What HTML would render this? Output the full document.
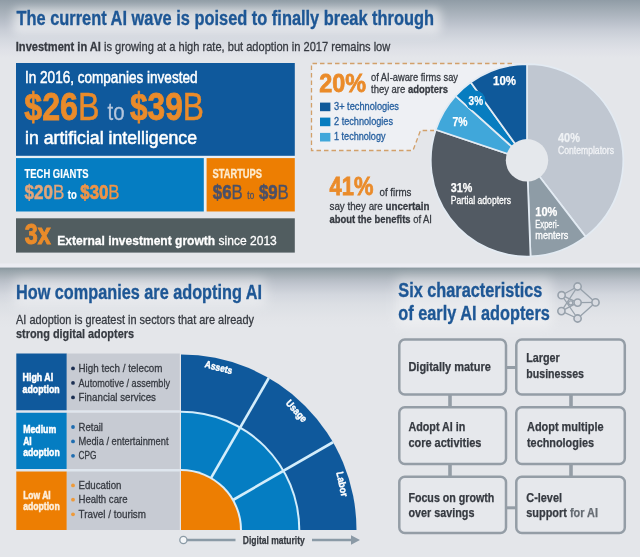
<!DOCTYPE html>
<html lang="en"><head><meta charset="utf-8"><title>The current AI wave is poised to finally break through</title>
<style>html,body{margin:0;padding:0;background:#e4e6ea;}svg{display:block;will-change:transform}text{font-family:"Liberation Sans",Arial,Helvetica,sans-serif;}</style></head><body>
<svg width="640" height="557" viewBox="0 0 640 557">
<defs>
<linearGradient id="g1" x1="0" y1="0" x2="0" y2="1">
<stop offset="0" stop-color="#909ca6"/><stop offset="0.17" stop-color="#a3adb6"/><stop offset="0.34" stop-color="#b5bcc6"/><stop offset="0.52" stop-color="#c8cdd6"/><stop offset="0.69" stop-color="#d5d9e0"/><stop offset="0.86" stop-color="#dfe1e7"/><stop offset="1" stop-color="#e4e6ea"/>
</linearGradient>
<linearGradient id="g2" x1="0" y1="0" x2="0" y2="1">
<stop offset="0" stop-color="#87959d"/><stop offset="0.05" stop-color="#97a3aa"/><stop offset="0.117" stop-color="#a5aeb5"/><stop offset="0.2" stop-color="#b5bcc4"/><stop offset="0.283" stop-color="#c1c6cf"/><stop offset="0.45" stop-color="#d3d7de"/><stop offset="0.617" stop-color="#dcdfe4"/><stop offset="0.833" stop-color="#e2e4e8"/><stop offset="1" stop-color="#e4e6ea"/>
</linearGradient>
<filter id="bl" x="-20%" y="-60%" width="140%" height="220%"><feGaussianBlur stdDeviation="4"/></filter>
<filter id="bl2" x="-20%" y="-80%" width="140%" height="260%"><feGaussianBlur stdDeviation="5.5"/></filter>
</defs>
<rect x="0" y="0" width="640" height="557" fill="#e4e6ea"/>
<rect x="0" y="0" width="640" height="58" fill="url(#g1)"/>
<rect x="0" y="263.5" width="640" height="4.1" fill="#ebecf2"/>
<rect x="0" y="267.6" width="640" height="60" fill="url(#g2)"/>
<rect x="13" y="8" width="428" height="26" rx="6" fill="#ffffff" opacity="0.5" filter="url(#bl)"/>
<rect x="14" y="278" width="252" height="28" rx="6" fill="#ffffff" opacity="0.42" filter="url(#bl2)"/>
<rect x="396" y="277" width="156" height="50" rx="6" fill="#ffffff" opacity="0.36" filter="url(#bl2)"/>
<text x="16.5" y="25.3" font-size="20" font-weight="bold" fill="#1e5795" textLength="417.5" lengthAdjust="spacingAndGlyphs" stroke="#1e5795" stroke-width="0.35">The current AI wave is poised to finally break through</text>
<text x="15.8" y="51.4" font-size="12.7" font-weight="normal" fill="#363a41" stroke="#363a41" stroke-width="0.3" textLength="374.5" lengthAdjust="spacingAndGlyphs"><tspan font-weight="bold">Investment in AI</tspan> is growing at a high rate, but adoption in 2017 remains low</text>
<rect x="16" y="150" width="278.8" height="61.5" fill="#e8eff5"/>
<rect x="16" y="63" width="278.8" height="92.8" fill="#0f599c"/>
<text x="25" y="83.3" font-size="16" font-weight="normal" fill="#ffffff" stroke="#ffffff" stroke-width="0.5" textLength="172.5" lengthAdjust="spacingAndGlyphs">In 2016, companies invested</text>
<text x="24.3" y="119.8" font-size="38" font-weight="normal" fill="#ea8b2a" stroke="#ea8b2a" stroke-width="0.5" textLength="75.2" lengthAdjust="spacingAndGlyphs"><tspan font-weight="bold" stroke-width="0.8">$26</tspan>B</text>
<text x="107.6" y="119.8" font-size="24" font-weight="normal" fill="#b4c6dd" stroke="#b4c6dd" stroke-width="0.3" textLength="17" lengthAdjust="spacingAndGlyphs">to</text>
<text x="130" y="119.8" font-size="38" font-weight="normal" fill="#ea8b2a" stroke="#ea8b2a" stroke-width="0.5" textLength="74" lengthAdjust="spacingAndGlyphs"><tspan font-weight="bold" stroke-width="0.8">$39</tspan>B</text>
<text x="25" y="144" font-size="19" font-weight="normal" fill="#ffffff" stroke="#ffffff" stroke-width="0.55" textLength="172" lengthAdjust="spacingAndGlyphs">in artificial intelligence</text>
<rect x="16" y="158.1" width="187.8" height="53.4" fill="#057dc2"/>
<text x="24.5" y="177.7" font-size="12.3" font-weight="bold" fill="#ffffff" stroke="#ffffff" stroke-width="0.15" textLength="64" lengthAdjust="spacingAndGlyphs">TECH GIANTS</text>
<text x="24.6" y="198.8" font-size="20.3" font-weight="normal" fill="#e3a57a" stroke="#e3a57a" stroke-width="0.3" textLength="39.8" lengthAdjust="spacingAndGlyphs"><tspan font-weight="bold" stroke-width="0.5">$20</tspan>B</text>
<text x="67.8" y="198.8" font-size="12.5" font-weight="bold" fill="#ffffff" stroke="#ffffff" stroke-width="0.2" textLength="9" lengthAdjust="spacingAndGlyphs">to</text>
<text x="80.3" y="198.8" font-size="20.3" font-weight="normal" fill="#f09447" stroke="#f09447" stroke-width="0.3" textLength="39.2" lengthAdjust="spacingAndGlyphs"><tspan font-weight="bold" stroke-width="0.7">$30</tspan>B</text>
<rect x="206.6" y="158.1" width="88.2" height="53.4" fill="#ed7e02"/>
<text x="212.5" y="177.8" font-size="12.3" font-weight="bold" fill="#fdecd0" stroke="#fdecd0" stroke-width="0.3" textLength="49.5" lengthAdjust="spacingAndGlyphs">STARTUPS</text>
<text x="212.8" y="198.8" font-size="20.5" font-weight="normal" fill="#4a5068" stroke="#4a5068" stroke-width="0.3" textLength="76" lengthAdjust="spacingAndGlyphs"><tspan font-weight="bold" stroke-width="0.6">$6</tspan>B <tspan font-size="10">to</tspan> <tspan font-weight="bold" stroke-width="0.6">$9</tspan>B</text>
<rect x="16" y="218.3" width="278.8" height="34.3" fill="#515d60"/>
<text x="24.8" y="243.9" font-size="29.5" font-weight="bold" fill="#ea8b2a" stroke="#ea8b2a" stroke-width="1.0" textLength="26" lengthAdjust="spacingAndGlyphs">3x</text>
<text x="57.3" y="245" font-size="13.5" font-weight="normal" fill="#ffffff" stroke="#ffffff" stroke-width="0.3" textLength="219.5" lengthAdjust="spacingAndGlyphs"><tspan font-weight="bold">External investment growth</tspan> since 2013</text>
<path d="M311.5 63.5 H522 L527 160 L434 130.5 H420.5 L413 150.5 H311.5 Z" fill="#eef0f4"/>
<path d="M512 63.5 H311.5 V150.5 H413 L420.5 130.5 H434" fill="none" stroke="#d2a06a" stroke-width="1.3" stroke-dasharray="4.5 3"/>
<text x="319.3" y="92.4" font-size="26.6" font-weight="bold" fill="#ea8b2a" stroke="#ea8b2a" stroke-width="0.8" textLength="46.8" lengthAdjust="spacingAndGlyphs">20%</text>
<text x="371" y="80.5" font-size="11.5" font-weight="normal" fill="#363a41" stroke="#363a41" stroke-width="0.3" textLength="87" lengthAdjust="spacingAndGlyphs">of AI-aware firms say</text>
<text x="371" y="93" font-size="11.5" font-weight="normal" fill="#363a41" stroke="#363a41" stroke-width="0.3" textLength="77" lengthAdjust="spacingAndGlyphs">they are <tspan font-weight="bold">adopters</tspan></text>
<rect x="320" y="102.60000000000001" width="10.4" height="8.6" fill="#0f599a"/>
<text x="334" y="109.9" font-size="10.5" font-weight="normal" fill="#255f9f" stroke="#255f9f" stroke-width="0.3" textLength="65" lengthAdjust="spacingAndGlyphs">3+ technologies</text>
<rect x="320" y="117.60000000000001" width="10.4" height="8.6" fill="#077dc0"/>
<text x="334" y="124.9" font-size="10.5" font-weight="normal" fill="#255f9f" stroke="#255f9f" stroke-width="0.3" textLength="59" lengthAdjust="spacingAndGlyphs">2 technologies</text>
<rect x="320" y="132.89999999999998" width="10.4" height="8.6" fill="#40a7da"/>
<text x="334" y="140.2" font-size="10.5" font-weight="normal" fill="#255f9f" stroke="#255f9f" stroke-width="0.3" textLength="51.5" lengthAdjust="spacingAndGlyphs">1 technology</text>
<text x="329.6" y="195.4" font-size="26.6" font-weight="bold" fill="#ea8b2a" stroke="#ea8b2a" stroke-width="0.8" textLength="43.8" lengthAdjust="spacingAndGlyphs">41%</text>
<text x="379.5" y="195.5" font-size="11.5" font-weight="normal" fill="#363a41" stroke="#363a41" stroke-width="0.3" textLength="32" lengthAdjust="spacingAndGlyphs">of firms</text>
<text x="329.5" y="210" font-size="11.5" font-weight="normal" fill="#363a41" stroke="#363a41" stroke-width="0.3" textLength="100" lengthAdjust="spacingAndGlyphs">say they are <tspan font-weight="bold">uncertain</tspan></text>
<text x="329.5" y="222.9" font-size="11.5" font-weight="normal" fill="#363a41" stroke="#363a41" stroke-width="0.3" textLength="102.5" lengthAdjust="spacingAndGlyphs"><tspan font-weight="bold">about the benefits</tspan> of AI</text>
<path d="M527.0 160.3 L527.00 64.10 A96.2 96.2 0 0 1 585.56 236.62 Z" fill="#c0c7d1" stroke="#e3ebf3" stroke-width="1.7" stroke-linejoin="round"/>
<path d="M527.0 160.3 L585.56 236.62 A96.2 96.2 0 0 1 530.53 256.44 Z" fill="#8e9ca6" stroke="#e3ebf3" stroke-width="1.7" stroke-linejoin="round"/>
<path d="M527.0 160.3 L530.53 256.44 A96.2 96.2 0 0 1 435.77 129.78 Z" fill="#525a63" stroke="#e3ebf3" stroke-width="1.7" stroke-linejoin="round"/>
<path d="M527.0 160.3 L435.77 129.78 A96.2 96.2 0 0 1 455.51 95.93 Z" fill="#40a7da" stroke="#e3ebf3" stroke-width="1.7" stroke-linejoin="round"/>
<path d="M527.0 160.3 L455.51 95.93 A96.2 96.2 0 0 1 470.73 82.28 Z" fill="#077dc0" stroke="#e3ebf3" stroke-width="1.7" stroke-linejoin="round"/>
<path d="M527.0 160.3 L470.73 82.28 A96.2 96.2 0 0 1 527.00 64.10 Z" fill="#0f599a" stroke="#e3ebf3" stroke-width="1.7" stroke-linejoin="round"/>
<circle cx="527.0" cy="160.3" r="21.2" fill="#e5e8ec"/>
<circle cx="475.4" cy="100.6" r="10" fill="#077dc0"/>
<text x="493" y="84.7" font-size="12" font-weight="bold" fill="#ffffff" stroke="#ffffff" stroke-width="0.25" textLength="23" lengthAdjust="spacingAndGlyphs">10%</text>
<text x="468.6" y="104.8" font-size="12" font-weight="bold" fill="#ffffff" stroke="#ffffff" stroke-width="0.25" textLength="14.5" lengthAdjust="spacingAndGlyphs">3%</text>
<text x="452.4" y="126.3" font-size="12" font-weight="bold" fill="#ffffff" stroke="#ffffff" stroke-width="0.25" textLength="15" lengthAdjust="spacingAndGlyphs">7%</text>
<text x="558" y="142" font-size="12" font-weight="bold" fill="#eef1f4" stroke="#eef1f4" stroke-width="0.25" textLength="22" lengthAdjust="spacingAndGlyphs">40%</text>
<text x="558" y="154.3" font-size="10.5" font-weight="normal" fill="#f1f3f6" stroke="#f1f3f6" stroke-width="0.3" textLength="56" lengthAdjust="spacingAndGlyphs">Contemplators</text>
<text x="450.8" y="191.7" font-size="12" font-weight="bold" fill="#ffffff" stroke="#ffffff" stroke-width="0.25" textLength="21.5" lengthAdjust="spacingAndGlyphs">31%</text>
<text x="450.8" y="204.2" font-size="10.5" font-weight="normal" fill="#ffffff" stroke="#ffffff" stroke-width="0.3" textLength="60.2" lengthAdjust="spacingAndGlyphs">Partial adopters</text>
<text x="535.3" y="216.3" font-size="12" font-weight="bold" fill="#ffffff" stroke="#ffffff" stroke-width="0.25" textLength="22" lengthAdjust="spacingAndGlyphs">10%</text>
<text x="535.3" y="227.6" font-size="10.5" font-weight="normal" fill="#ffffff" stroke="#ffffff" stroke-width="0.3" textLength="24" lengthAdjust="spacingAndGlyphs">Experi-</text>
<text x="535.3" y="238.6" font-size="10.5" font-weight="normal" fill="#ffffff" stroke="#ffffff" stroke-width="0.3" textLength="33" lengthAdjust="spacingAndGlyphs">menters</text>
<text x="16" y="299.2" font-size="20" font-weight="bold" fill="#1e5795" textLength="246" lengthAdjust="spacingAndGlyphs" stroke="#1e5795" stroke-width="0.35">How companies are adopting AI</text>
<text x="16" y="323.6" font-size="13" font-weight="normal" fill="#363a41" stroke="#363a41" stroke-width="0.3" textLength="238" lengthAdjust="spacingAndGlyphs">AI adoption is greatest in sectors that are already</text>
<text x="16" y="338.2" font-size="13" font-weight="bold" fill="#363a41" stroke="#363a41" stroke-width="0.25" textLength="118" lengthAdjust="spacingAndGlyphs">strong digital adopters</text>
<rect x="16.3" y="353.5" width="50.5" height="57.0" fill="#0f599c"/>
<rect x="66.8" y="353.5" width="113" height="57.0" fill="#c7cbd3"/>
<rect x="16.3" y="412.5" width="50.5" height="56.5" fill="#057dc2"/>
<rect x="66.8" y="412.5" width="113" height="56.5" fill="#c7cbd3"/>
<rect x="16.3" y="471.3" width="50.5" height="58.69999999999999" fill="#ed7e02"/>
<rect x="66.8" y="471.3" width="113" height="58.69999999999999" fill="#c7cbd3"/>
<rect x="16.3" y="410.5" width="163.5" height="2" fill="#dfe6ee"/>
<rect x="16.3" y="469" width="163.5" height="2.3" fill="#dfe6ee"/>
<text x="22.6" y="381.2" font-size="10.5" font-weight="bold" fill="#ffffff" stroke="#ffffff" stroke-width="0.5" textLength="30.5" lengthAdjust="spacingAndGlyphs">High AI</text>
<text x="22.6" y="392.7" font-size="10.5" font-weight="bold" fill="#ffffff" stroke="#ffffff" stroke-width="0.5" textLength="37" lengthAdjust="spacingAndGlyphs">adoption</text>
<text x="23.2" y="432.7" font-size="10.5" font-weight="bold" fill="#ffffff" stroke="#ffffff" stroke-width="0.5" textLength="33" lengthAdjust="spacingAndGlyphs">Medium</text>
<text x="23.2" y="444.5" font-size="10.5" font-weight="bold" fill="#ffffff" stroke="#ffffff" stroke-width="0.5" textLength="8.5" lengthAdjust="spacingAndGlyphs">AI</text>
<text x="23.2" y="456.4" font-size="10.5" font-weight="bold" fill="#ffffff" stroke="#ffffff" stroke-width="0.5" textLength="36.5" lengthAdjust="spacingAndGlyphs">adoption</text>
<text x="23.2" y="498.6" font-size="10.5" font-weight="bold" fill="#fdeedb" stroke="#fdeedb" stroke-width="0.5" textLength="27.5" lengthAdjust="spacingAndGlyphs">Low AI</text>
<text x="23.2" y="509.9" font-size="10.5" font-weight="bold" fill="#fdeedb" stroke="#fdeedb" stroke-width="0.5" textLength="36.5" lengthAdjust="spacingAndGlyphs">adoption</text>
<circle cx="73" cy="368.4" r="1.9" fill="#1c2f52"/>
<text x="78.5" y="372" font-size="11.5" font-weight="normal" fill="#363a41" stroke="#363a41" stroke-width="0.3" textLength="84" lengthAdjust="spacingAndGlyphs">High tech / telecom</text>
<circle cx="73" cy="382.9" r="1.9" fill="#1c2f52"/>
<text x="78.5" y="386.5" font-size="11.5" font-weight="normal" fill="#363a41" stroke="#363a41" stroke-width="0.3" textLength="91.5" lengthAdjust="spacingAndGlyphs">Automotive / assembly</text>
<circle cx="73" cy="397.4" r="1.9" fill="#1c2f52"/>
<text x="78.5" y="401" font-size="11.5" font-weight="normal" fill="#363a41" stroke="#363a41" stroke-width="0.3" textLength="77.5" lengthAdjust="spacingAndGlyphs">Financial services</text>
<circle cx="73" cy="427.0" r="1.9" fill="#1f6db0"/>
<text x="78.5" y="430.6" font-size="11.5" font-weight="normal" fill="#363a41" stroke="#363a41" stroke-width="0.3" textLength="24.5" lengthAdjust="spacingAndGlyphs">Retail</text>
<circle cx="73" cy="441.4" r="1.9" fill="#1f6db0"/>
<text x="78.5" y="445" font-size="11.5" font-weight="normal" fill="#363a41" stroke="#363a41" stroke-width="0.3" textLength="90" lengthAdjust="spacingAndGlyphs">Media / entertainment</text>
<circle cx="73" cy="455.79999999999995" r="1.9" fill="#1f6db0"/>
<text x="78.5" y="459.4" font-size="11.5" font-weight="normal" fill="#363a41" stroke="#363a41" stroke-width="0.3" textLength="18" lengthAdjust="spacingAndGlyphs">CPG</text>
<circle cx="73" cy="485.4" r="1.9" fill="#ee9a3a"/>
<text x="78.5" y="489" font-size="11.5" font-weight="normal" fill="#363a41" stroke="#363a41" stroke-width="0.3" textLength="43" lengthAdjust="spacingAndGlyphs">Education</text>
<circle cx="73" cy="499.7" r="1.9" fill="#ee9a3a"/>
<text x="78.5" y="503.3" font-size="11.5" font-weight="normal" fill="#363a41" stroke="#363a41" stroke-width="0.3" textLength="49" lengthAdjust="spacingAndGlyphs">Health care</text>
<circle cx="73" cy="514.3" r="1.9" fill="#ee9a3a"/>
<text x="78.5" y="517.9" font-size="11.5" font-weight="normal" fill="#363a41" stroke="#363a41" stroke-width="0.3" textLength="67.5" lengthAdjust="spacingAndGlyphs">Travel / tourism</text>
<path d="M181 530 V354.5 A175.5 175.5 0 0 1 356.5 530 Z" fill="#0f599c"/>
<path d="M181 530 V410.7 A119.3 119.3 0 0 1 300.3 530 Z" fill="#d3edfb"/>
<path d="M181 530 V412.7 A117.3 117.3 0 0 1 298.3 530 Z" fill="#057dc2"/>
<path d="M181 530 V469 A61 61 0 0 1 242 530 Z" fill="#dcecf7"/>
<line x1="210.50" y1="478.90" x2="268.75" y2="378.01" stroke="#d3edfb" stroke-width="2.6"/>
<line x1="232.10" y1="500.50" x2="332.99" y2="442.25" stroke="#d3edfb" stroke-width="2.6"/>
<path d="M181 530 V471 A59 59 0 0 1 240 530 Z" fill="#ed7e02"/>
<text transform="translate(218.7 367.3) rotate(15)" x="-14.0" y="3.5" font-size="10" font-weight="bold" fill="#ffffff" stroke="#ffffff" stroke-width="0.4" textLength="28" lengthAdjust="spacingAndGlyphs">Assets</text>
<text transform="translate(296.6 410.9) rotate(48)" x="-13.0" y="3.5" font-size="10" font-weight="bold" fill="#ffffff" stroke="#ffffff" stroke-width="0.4" textLength="26" lengthAdjust="spacingAndGlyphs">Usage</text>
<text transform="translate(342.3 484.1) rotate(78)" x="-12.5" y="3.5" font-size="10" font-weight="bold" fill="#ffffff" stroke="#ffffff" stroke-width="0.4" textLength="25" lengthAdjust="spacingAndGlyphs">Labor</text>
<line x1="187" y1="540" x2="235.5" y2="540" stroke="#8b9aa6" stroke-width="2.6"/>
<line x1="312" y1="540" x2="352" y2="540" stroke="#8b9aa6" stroke-width="2.6"/>
<path d="M351 535.3 L360 540 L351 544.7 Z" fill="#8b9aa6"/>
<circle cx="183.4" cy="540" r="3.6" fill="#f4f6f8" stroke="#8b9aa6" stroke-width="1.3"/>
<text x="242.8" y="543.6" font-size="10.5" font-weight="bold" fill="#363a41" stroke="#363a41" stroke-width="0.25" textLength="62" lengthAdjust="spacingAndGlyphs">Digital maturity</text>
<text x="398.3" y="296.7" font-size="20" font-weight="bold" fill="#1e5795" textLength="144" lengthAdjust="spacingAndGlyphs" stroke="#1e5795" stroke-width="0.35">Six characteristics</text>
<text x="398.3" y="320.4" font-size="20" font-weight="bold" fill="#1e5795" textLength="151.5" lengthAdjust="spacingAndGlyphs" stroke="#1e5795" stroke-width="0.35">of early AI adopters</text>
<line x1="561.6" y1="295.2" x2="577.6" y2="286.5" stroke="#97a1ab" stroke-width="1.3"/>
<line x1="561.6" y1="295.2" x2="577.6" y2="302.6" stroke="#97a1ab" stroke-width="1.3"/>
<line x1="561.6" y1="295.2" x2="577.6" y2="318.5" stroke="#97a1ab" stroke-width="1.3"/>
<line x1="561.4" y1="311.1" x2="577.6" y2="286.5" stroke="#97a1ab" stroke-width="1.3"/>
<line x1="561.4" y1="311.1" x2="577.6" y2="302.6" stroke="#97a1ab" stroke-width="1.3"/>
<line x1="561.4" y1="311.1" x2="577.6" y2="318.5" stroke="#97a1ab" stroke-width="1.3"/>
<line x1="577.6" y1="286.5" x2="595.5" y2="302.4" stroke="#97a1ab" stroke-width="1.3"/>
<line x1="577.6" y1="302.6" x2="595.5" y2="302.4" stroke="#97a1ab" stroke-width="1.3"/>
<line x1="577.6" y1="318.5" x2="595.5" y2="302.4" stroke="#97a1ab" stroke-width="1.3"/>
<circle cx="561.6" cy="295.2" r="3.6" fill="#d9dce2" stroke="#97a1ab" stroke-width="1.6"/>
<circle cx="561.4" cy="311.1" r="3.6" fill="#d9dce2" stroke="#97a1ab" stroke-width="1.6"/>
<circle cx="577.6" cy="286.5" r="3.6" fill="#d9dce2" stroke="#97a1ab" stroke-width="1.6"/>
<circle cx="577.6" cy="302.6" r="3.6" fill="#d9dce2" stroke="#97a1ab" stroke-width="1.6"/>
<circle cx="577.6" cy="318.5" r="3.6" fill="#d9dce2" stroke="#97a1ab" stroke-width="1.6"/>
<circle cx="595.5" cy="302.4" r="3.6" fill="#d9dce2" stroke="#97a1ab" stroke-width="1.6"/>
<circle cx="570.7" cy="302.9" r="2.1" fill="#d9dce2" stroke="#97a1ab" stroke-width="1.3"/>
<line x1="506" y1="367.5" x2="516" y2="367.5" stroke="#949da6" stroke-width="3"/>
<line x1="506" y1="507.8" x2="516" y2="507.8" stroke="#949da6" stroke-width="3"/>
<line x1="450" y1="394" x2="450" y2="408" stroke="#949da6" stroke-width="3.6"/>
<line x1="450" y1="463" x2="450" y2="477.5" stroke="#949da6" stroke-width="3.6"/>
<line x1="571" y1="394" x2="571" y2="408" stroke="#949da6" stroke-width="3.6"/>
<line x1="571" y1="463" x2="571" y2="477.5" stroke="#949da6" stroke-width="3.6"/>
<rect x="399.3" y="339.5" width="106.69999999999999" height="55.0" rx="5.5" ry="5.5" fill="#e6e8ec" stroke="#949da6" stroke-width="2.5"/>
<rect x="516.3" y="339.5" width="108.5" height="55.0" rx="5.5" ry="5.5" fill="#e6e8ec" stroke="#949da6" stroke-width="2.5"/>
<rect x="399.3" y="407.3" width="106.69999999999999" height="56.69999999999999" rx="5.5" ry="5.5" fill="#e6e8ec" stroke="#949da6" stroke-width="2.5"/>
<rect x="516.3" y="407.3" width="108.5" height="56.69999999999999" rx="5.5" ry="5.5" fill="#e6e8ec" stroke="#949da6" stroke-width="2.5"/>
<rect x="399.3" y="476.8" width="106.69999999999999" height="56.19999999999999" rx="5.5" ry="5.5" fill="#e6e8ec" stroke="#949da6" stroke-width="2.5"/>
<rect x="516.3" y="476.8" width="108.5" height="56.19999999999999" rx="5.5" ry="5.5" fill="#e6e8ec" stroke="#949da6" stroke-width="2.5"/>
<text x="408.4" y="370.8" font-size="12" font-weight="bold" fill="#363a41" stroke="#363a41" stroke-width="0.25" textLength="82.5" lengthAdjust="spacingAndGlyphs">Digitally mature</text>
<text x="526.3" y="362.2" font-size="12" font-weight="bold" fill="#363a41" stroke="#363a41" stroke-width="0.25" textLength="33.5" lengthAdjust="spacingAndGlyphs">Larger</text>
<text x="526.3" y="377.7" font-size="12" font-weight="bold" fill="#363a41" stroke="#363a41" stroke-width="0.25" textLength="57.7" lengthAdjust="spacingAndGlyphs">businesses</text>
<text x="408.4" y="431.4" font-size="12" font-weight="bold" fill="#363a41" stroke="#363a41" stroke-width="0.25" textLength="57" lengthAdjust="spacingAndGlyphs">Adopt AI in</text>
<text x="408.4" y="446.9" font-size="12" font-weight="bold" fill="#363a41" stroke="#363a41" stroke-width="0.25" textLength="73" lengthAdjust="spacingAndGlyphs">core activities</text>
<text x="527" y="431.4" font-size="12" font-weight="bold" fill="#363a41" stroke="#363a41" stroke-width="0.25" textLength="76.5" lengthAdjust="spacingAndGlyphs">Adopt multiple</text>
<text x="527" y="446.9" font-size="12" font-weight="bold" fill="#363a41" stroke="#363a41" stroke-width="0.25" textLength="67" lengthAdjust="spacingAndGlyphs">technologies</text>
<text x="408.4" y="501.7" font-size="12" font-weight="bold" fill="#363a41" stroke="#363a41" stroke-width="0.25" textLength="86" lengthAdjust="spacingAndGlyphs">Focus on growth</text>
<text x="408.4" y="517.2" font-size="12" font-weight="bold" fill="#363a41" stroke="#363a41" stroke-width="0.25" textLength="66" lengthAdjust="spacingAndGlyphs">over savings</text>
<text x="526.3" y="501.7" font-size="12" font-weight="bold" fill="#363a41" stroke="#363a41" stroke-width="0.25" textLength="35.7" lengthAdjust="spacingAndGlyphs">C-level</text>
<text x="526.3" y="517.2" font-size="12" font-weight="bold" fill="#363a41" stroke="#363a41" stroke-width="0.25" textLength="71.7" lengthAdjust="spacingAndGlyphs">support <tspan fill="#666c73" stroke="#666c73">for AI</tspan></text>
</svg></body></html>
